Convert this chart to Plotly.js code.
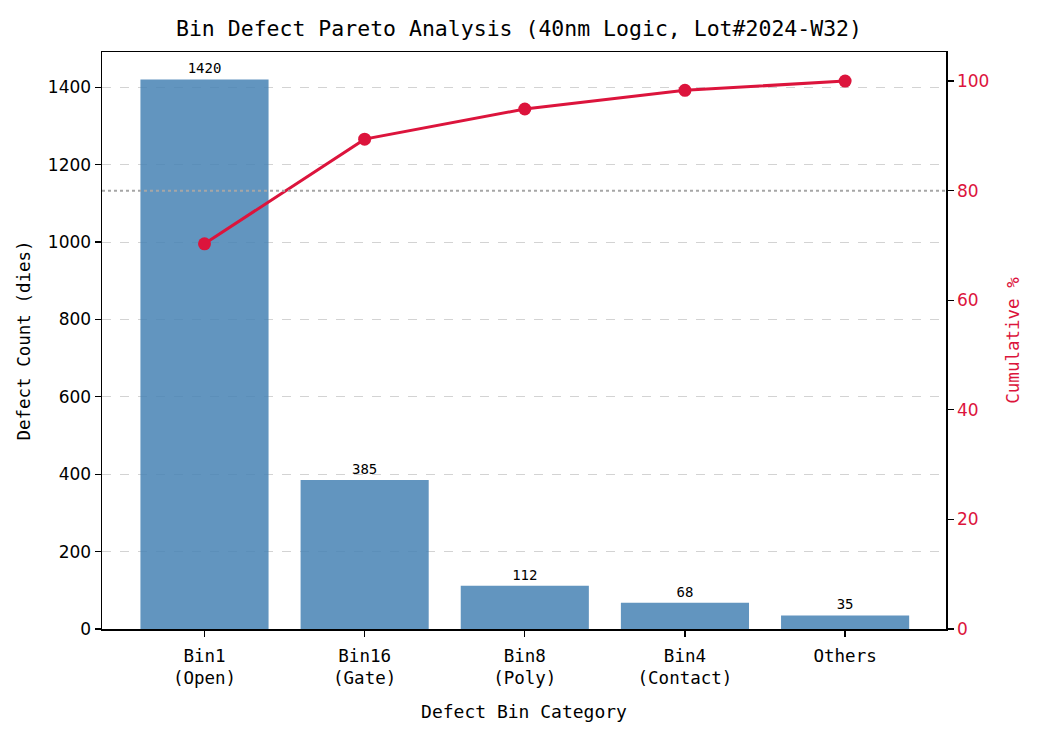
<!DOCTYPE html>
<html>
<head>
<meta charset="utf-8">
<script src="https://cdn.plot.ly/plotly-3.0.1.min.js"></script>
<style>
  body { margin: 0; background: #fff; }
  #chart { width: 1038px; height: 735px; }
</style>
</head>
<body>
<div id="chart"></div>
<script>
// values
const categories = ['Bin1<br>(Open)', 'Bin16<br>(Gate)', 'Bin8<br>(Poly)', 'Bin4<br>(Contact)', 'Others']
const defectCounts = [1420, 385, 112, 68, 35]
const cumulativePct = [70.3, 89.4, 94.9, 98.3, 100.0]
const leftTicks = [0, 200, 400, 600, 800, 1000, 1200, 1400]
const rightTicks = [0, 20, 40, 60, 80, 100]
const thresholdPct = 80

const mono = 'DejaVu Sans Mono, Liberation Mono, monospace'
const sans = 'DejaVu Sans, sans-serif'
const red = '#DC143C'

const bars = {
  type: 'bar',
  x: categories,
  y: defectCounts,
  width: 0.8,
  marker: { color: 'steelblue', opacity: 0.85 },
  text: defectCounts.map(String),
  textposition: 'outside',
  textfont: { family: mono, size: 14, color: '#000' },
  cliponaxis: false,
  hoverinfo: 'x+y',
  showlegend: false
}

const cumLine = {
  type: 'scatter',
  mode: 'lines+markers',
  x: categories,
  y: cumulativePct,
  yaxis: 'y2',
  line: { color: red, width: 3 },
  marker: { color: red, size: 13 },
  cliponaxis: false,
  showlegend: false
}

const layout = {
  width: 1038,
  height: 735,
  margin: { l: 102, r: 92, t: 52, b: 106 },
  paper_bgcolor: '#fff',
  plot_bgcolor: '#fff',
  title: {
    text: 'Bin Defect Pareto Analysis (40nm Logic, Lot#2024-W32)',
    font: { family: mono, size: 21.5, color: '#000' },
    x: 0.5, xanchor: 'center',
    y: 1 - 28 / 735, yref: 'container', yanchor: 'middle'
  },
  xaxis: {
    range: [-0.64, 4.63],
    showline: true, linecolor: '#000', linewidth: 1.5, mirror: true,
    ticks: 'outside', ticklen: 6, tickcolor: '#000', tickwidth: 1.2,
    ticklabelstandoff: 4,
    tickfont: { family: mono, size: 17.5, color: '#000' },
    showgrid: false, zeroline: false,
    title: { text: 'Defect Bin Category', font: { family: mono, size: 18, color: '#000' }, standoff: 18 }
  },
  yaxis: {
    range: [0, 1491],
    tickvals: leftTicks,
    showline: true, linecolor: '#000', linewidth: 1.5,
    ticks: 'outside', ticklen: 6, tickcolor: '#000', tickwidth: 1.2,
    tickfont: { family: sans, size: 17, color: '#000' },
    showgrid: true, gridcolor: '#d3d3d3', griddash: 'dash', gridwidth: 1,
    zeroline: false,
    title: { text: 'Defect Count (dies)', font: { family: mono, size: 17.5, color: '#000' }, standoff: 12 }
  },
  yaxis2: {
    overlaying: 'y', side: 'right',
    range: [0, 105.3],
    tickvals: rightTicks,
    showline: true, linecolor: '#000', linewidth: 1.5,
    ticks: 'outside', ticklen: 6, tickcolor: '#000', tickwidth: 1.2,
    tickfont: { family: sans, size: 17, color: red },
    showgrid: false, zeroline: false,
    title: { text: 'Cumulative %', font: { family: mono, size: 17.5, color: red }, standoff: 18 }
  },
  shapes: [{
    type: 'line', xref: 'paper', x0: 0, x1: 1,
    yref: 'y2', y0: thresholdPct, y1: thresholdPct,
    line: { color: '#a6a6a6', width: 2, dash: 'dot' },
    layer: 'above'
  }]
}

Plotly.newPlot('chart', [bars, cumLine], layout, { displayModeBar: false, staticPlot: true })
</script>
</body>
</html>
